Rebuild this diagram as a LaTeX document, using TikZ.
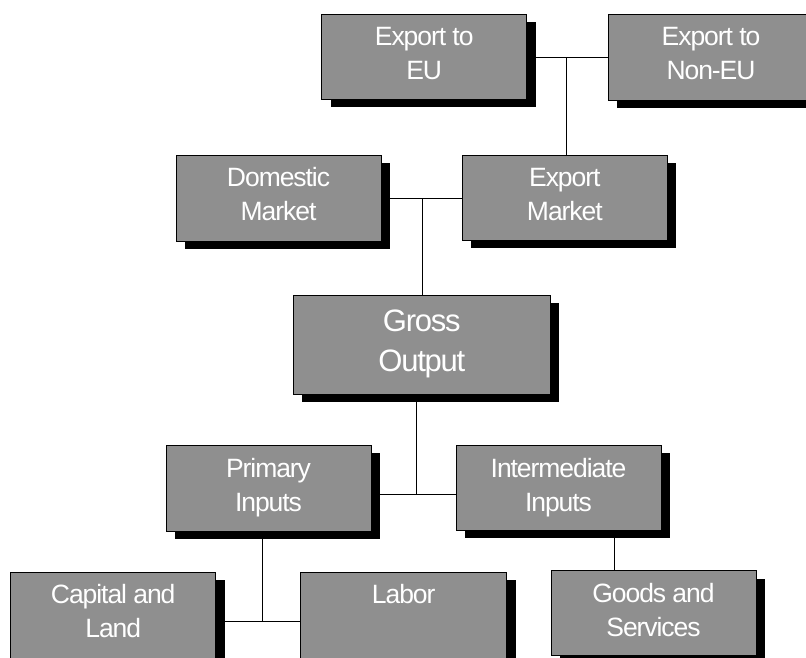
\documentclass[tikz,border=0pt]{standalone}
\usepackage{fontspec}
\setmainfont{Liberation Sans}
\newfontfamily\boxfont[LetterSpace=-4]{Liberation Sans}
\definecolor{boxgray}{RGB}{143,143,143}
\tikzset{
  box/.style={draw=black, line width=1pt, fill=boxgray, rectangle, inner sep=0pt, outer sep=0pt,
    anchor=north west, minimum width=205pt, minimum height=85pt,
    preaction={fill=black, transform canvas={xshift=9pt, yshift=-8pt}}},
  boxtext/.style={text=white, anchor=base, inner sep=0pt, font=\boxfont\fontsize{26.5}{34}\selectfont},
  bigtext/.style={text=white, anchor=base, inner sep=0pt, font=\boxfont\fontsize{31}{40}\selectfont},
  conn/.style={draw=black, line width=1pt},
}
\newcommand{\twolines}[2]{\begin{tabular}[t]{@{}c@{}}#1\\#2\end{tabular}}
\begin{document}
\begin{tikzpicture}[x=1pt, y=-1pt]
\useasboundingbox (0,0) rectangle (806,657);
\clip (0,0) rectangle (806,657);
\fill[white] (0,0) rectangle (806,657);

% boxes
\node[box] (eu) at (321.7,14) {};
\node[box, minimum width=206pt, minimum height=86pt] (noneu) at (608,14) {};
\node[box, minimum height=86pt] (dom) at (176,155) {};
\node[box] (expm) at (462.3,155) {};
\node[box, minimum width=257pt, minimum height=99pt] (gross) at (293.3,295) {};
\node[box, minimum height=86pt] (prim) at (166,445) {};
\node[box] (inter) at (456,445) {};
\node[box, minimum height=95pt] (cap) at (10.7,572) {};
\node[box, minimum width=206pt, minimum height=95pt] (lab) at (300.7,572) {};
\node[box] (goods) at (551,570.7) {};

% texts
\node[boxtext] (eut) at ([yshift=-31.5pt]eu.north) {\twolines{Export to}{EU}};
\node[boxtext] (noneut) at ([yshift=-31.5pt]noneu.north) {\twolines{Export to}{Non-EU}};
\node[boxtext] (domt) at ([yshift=-31.5pt]dom.north) {\twolines{Domestic}{Market}};
\node[boxtext] (expmt) at ([yshift=-31.5pt]expm.north) {\twolines{Export}{Market}};
\node[bigtext] (grosst) at ([yshift=-36.7pt]gross.north) {\twolines{Gross}{Output}};
\node[boxtext] (primt) at ([yshift=-32pt]prim.north) {\twolines{Primary}{Inputs}};
\node[boxtext] (intert) at ([yshift=-32pt]inter.north) {\twolines{Intermediate}{Inputs}};
\node[boxtext] (capt) at ([yshift=-31.5pt]cap.north) {\twolines{Capital and}{Land}};
\node[boxtext] (labt) at ([yshift=-31.5pt]lab.north) {Labor};
\node[boxtext] (goodst) at ([yshift=-31.5pt]goods.north) {\twolines{Goods and}{Services}};

% junctions
\coordinate (j0) at (566.7,57.5);
\coordinate (j1) at (422.7,198.3);
\coordinate (j2) at (416.7,494.3);
\coordinate (j3) at (262.7,621);
\coordinate (j4) at (614.2,550);

% connectors
\draw[conn] (eu.east |- j0) -- (noneu.west |- j0);
\draw[conn] (j0) -- (expm.north -| j0);
\draw[conn] (dom.east |- j1) -- (expm.west |- j1);
\draw[conn] (j1) -- (gross.north -| j1);
\draw[conn] (gross.south -| j2) -- (j2);
\draw[conn] (prim.east |- j2) -- (inter.west |- j2);
\draw[conn] (prim.south -| j3) -- (j3);
\draw[conn] (cap.east |- j3) -- (lab.west |- j3);
\draw[conn] (inter.south -| j4) -- (goods.north -| j4);
\end{tikzpicture}
\end{document}
